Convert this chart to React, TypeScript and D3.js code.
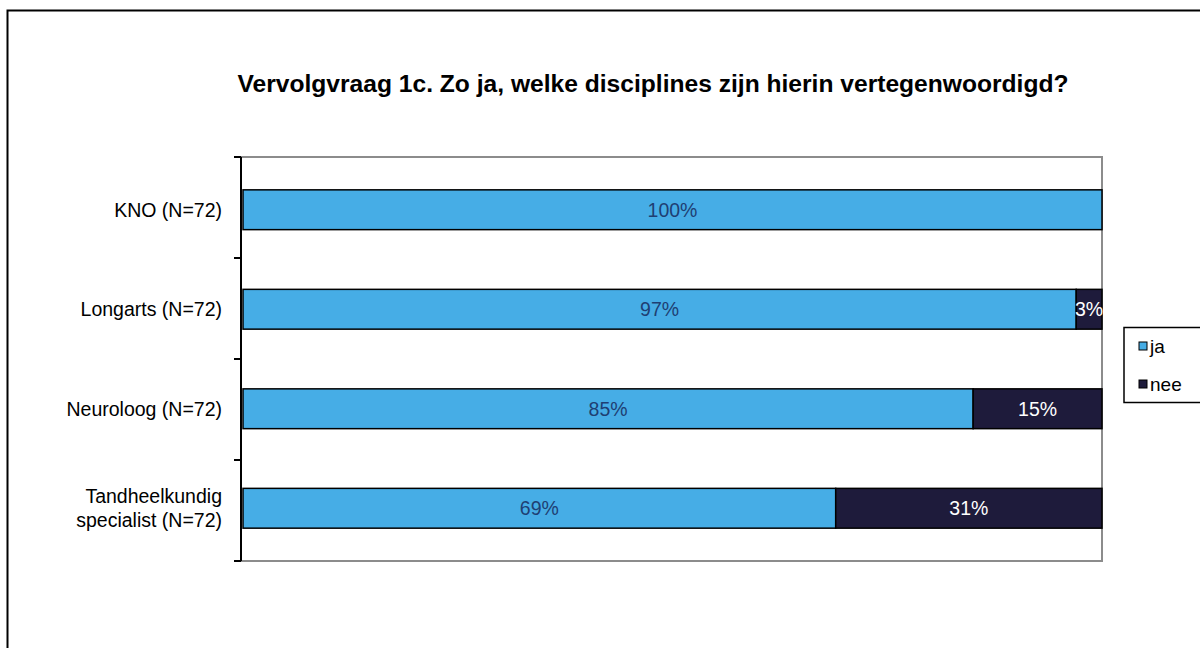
import React from "react";
import * as d3 from "d3";

const categories = ["KNO (N=72)", "Longarts (N=72)", "Neuroloog (N=72)", "Tandheelkundig specialist (N=72)"];
const categoryLines = [["KNO (N=72)"], ["Longarts (N=72)"], ["Neuroloog (N=72)"], ["Tandheelkundig", "specialist (N=72)"]];
const jaValues = [100, 97, 85, 69];
const neeValues = [0, 3, 15, 31];
const seriesNames = ["ja", "nee"];
const seriesColors = ["#46ADE6", "#1E1B3B"];
const labelColors = ["#1F3F73", "#FFFFFF"];

const W = 1200;
const H = 648;
const plot = { left: 241, right: 1102, top: 157, bottom: 561 };

const App = () => {
  const y = d3
    .scaleBand()
    .domain(categories)
    .range([plot.top, plot.bottom])
    .paddingInner(0.6)
    .paddingOuter(0.33);

  const x = d3.scaleLinear().domain([0, 100]).range([plot.left + 2, plot.right]);

  const rows = categories.map((c, i) => ({ cat: c, vals: [jaValues[i], neeValues[i]] }));
  const tickYs = d3.range(categories.length + 1).map((i) => plot.top + (i * (plot.bottom - plot.top)) / categories.length);

  return (
    <svg width={W} height={H} style={{ display: "block", position: "absolute", left: 0, top: 0 }} fontFamily="'Liberation Sans', Arial, sans-serif">
      <rect x={0} y={0} width={W} height={H} fill="#fff" />
      {/* outer frame */}
      <path d={`M7.5,${H + 5} V10.5 H${W + 5}`} fill="none" stroke="#000" strokeWidth={2} />

      <text x={653} y={92} textAnchor="middle" fontSize={24.6} fontWeight="bold" fill="#000">
        Vervolgvraag 1c. Zo ja, welke disciplines zijn hierin vertegenwoordigd?
      </text>

      {/* plot border */}
      <path d={`M${plot.left},${plot.top} H${plot.right} V${plot.bottom} H${plot.left}`} fill="none" stroke="#8c8c8c" strokeWidth={2} />

      {/* bars */}
      {rows.map((r) => {
        let acc = 0;
        return (
          <g key={r.cat}>
            {r.vals.map((v, j) => {
              const x0 = x(acc);
              acc += v;
              const x1 = x(acc);
              if (v <= 0) return null;
              return (
                <g key={j}>
                  <rect x={x0} y={y(r.cat)} width={x1 - x0} height={y.bandwidth()} fill={seriesColors[j]} stroke="#000" strokeWidth={1.5} />
                  <text x={(x0 + x1) / 2} y={y(r.cat)! + y.bandwidth() / 2 + 7} textAnchor="middle" fontSize={19.5} fill={labelColors[j]}>
                    {v}%
                  </text>
                </g>
              );
            })}
          </g>
        );
      })}

      {/* y axis */}
      <line x1={plot.left} x2={plot.left} y1={plot.top} y2={plot.bottom} stroke="#000" strokeWidth={2} />
      {tickYs.map((t, i) => (
        <line key={i} x1={plot.left - 7} x2={plot.left} y1={t} y2={t} stroke="#000" strokeWidth={2} />
      ))}
      {categories.map((c, i) => {
        const lines = categoryLines[i];
        const cy = y(c)! + y.bandwidth() / 2;
        return (
          <text key={c} x={222} y={cy - ((lines.length - 1) * 24) / 2 + 7} textAnchor="end" fontSize={19.5} fill="#000">
            {lines.map((l, k) => (
              <tspan key={k} x={222} dy={k === 0 ? 0 : 24}>
                {l}
              </tspan>
            ))}
          </text>
        );
      })}

      {/* legend */}
      <rect x={1124} y={327.5} width={90} height={75} fill="#fff" stroke="#000" strokeWidth={1.5} />
      {seriesNames.map((s, i) => (
        <g key={s} transform={`translate(1139, ${346 + i * 38})`}>
          <rect x={0} y={-4} width={8} height={8} fill={seriesColors[i]} stroke="#000" strokeWidth={1} />
          <text x={11} y={7} fontSize={19} fill="#000">
            {s}
          </text>
        </g>
      ))}
    </svg>
  );
};

export default App;
